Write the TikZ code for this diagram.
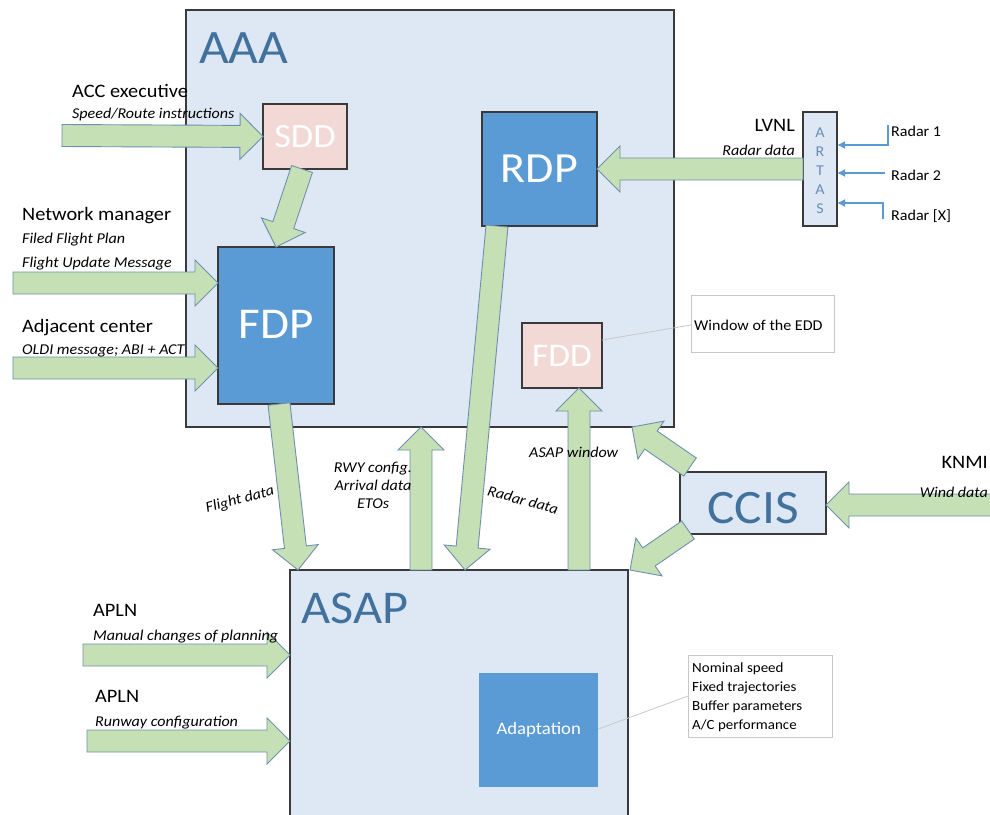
\documentclass[tikz,border=0pt]{standalone}
\usepackage{fontspec}
\setmainfont{Carlito}[FakeStretch=1.07]
\usetikzlibrary{calc,arrows.meta}
\definecolor{bgblue}{HTML}{DDE8F4}
\definecolor{midblue}{HTML}{5B9BD5}
\definecolor{pinkbox}{HTML}{F2D9D5}
\definecolor{titleblue}{HTML}{41719C}
\definecolor{boxline}{HTML}{3A3A3A}
\definecolor{greenfill}{HTML}{C5E0B4}
\definecolor{greenline}{HTML}{6F8FB0}
\definecolor{artasblue}{HTML}{6A8DB5}
\definecolor{noteline}{HTML}{C8C8C8}
\newcommand{\fs}[1]{\fontsize{#1}{#1}\selectfont}
\newcommand{\fatarr}[2]{%
  \coordinate (faS) at #1; \coordinate (faE) at #2;
  \coordinate (faH) at ($(faE)!23pt!(faS)$);
  \filldraw[fatstyle] ($(faS)!11pt!90:(faE)$) -- ($(faH)!11pt!90:(faE)$) -- ($(faH)!23pt!90:(faE)$) -- (faE) -- ($(faH)!23pt!-90:(faE)$) -- ($(faH)!11pt!-90:(faE)$) -- ($(faS)!11pt!-90:(faE)$) -- cycle;}
\tikzset{
  box/.style={draw=boxline, line width=1.3pt, inner sep=0pt, outer sep=0pt},
  fatstyle/.style={fill=greenfill, draw=greenline, line width=0.9pt, line join=miter},
  lab/.style={inner sep=0pt, anchor=base west, font=\fs{19}},
  ital/.style={inner sep=0pt, anchor=base west, font=\fs{15}\itshape},
  notebox/.style={draw=noteline, line width=0.8pt, fill=white, inner sep=0pt, outer sep=0pt, anchor=north west},
  noteln/.style={draw=noteline, line width=0.8pt},
  radarln/.style={draw=midblue, line width=1.3pt, -{Latex[length=8pt,width=8pt]}},
}
\begin{document}
\begin{tikzpicture}[x=1pt,y=-1pt]
\useasboundingbox (0,0) rectangle (990,814);
\clip (0,0) rectangle (990,814);
% main containers
\node[box, fill=bgblue, anchor=north west, minimum width=488, minimum height=417] (AAA) at (186,10) {};
\node[inner sep=0pt, anchor=base west, font=\fs{48}, text=titleblue] (AAAt) at (199,63) {AAA};
\node[box, fill=bgblue, anchor=north west, minimum width=338, minimum height=270] (ASAP) at (290,570) {};
\node[inner sep=0pt, anchor=base west, font=\fs{47}, text=titleblue] (ASAPt) at (301,623) {ASAP};
% inner boxes
\node[box, fill=pinkbox, anchor=north west, minimum width=84, minimum height=65, font=\fs{34}, text=white] (SDD) at (263,104) {SDD};
\node[box, fill=midblue, anchor=north west, minimum width=116, minimum height=157, font=\fs{44}, text=white, text depth=3pt] (FDP) at (218,247) {FDP};
\node[box, fill=midblue, anchor=north west, minimum width=115, minimum height=114, font=\fs{43}, text=white] (RDP) at (482,112) {RDP};
\node[box, fill=pinkbox, anchor=north west, minimum width=80, minimum height=65, font=\fs{33}, text=white] (FDD) at (522,323) {FDD};
\node[box, fill=bgblue, anchor=north west, minimum width=34, minimum height=114] (ARTAS) at (803,112) {};
\foreach \l/\yy in {A/133,R/152,T/171,A/190,S/209}
  \node[inner sep=0pt, font=\fs{15}, text=artasblue] at (820,\yy) {\l};
\node[box, fill=bgblue, anchor=north west, minimum width=146, minimum height=62] (CCIS) at (680,472) {};
\node[inner sep=0pt, anchor=base, font=\fs{48}, text=titleblue] (CCISt) at (753,523) {CCIS};
\node[fill=midblue, inner sep=0pt, anchor=north west, minimum width=119, minimum height=114, font=\fs{17.5}, text=white] (ADA) at (479,673) {Adaptation};
% notes
\node[notebox, minimum width=143, minimum height=57] (EDD) at (691,295) {};
\node[inner sep=0pt, anchor=base west, font=\fs{15}] (EDDt) at (694,330) {Window of the EDD};
\draw[noteln] (FDD.east |- 0,340) -- (EDD.west |- 0,325);
\node[notebox, minimum width=144, minimum height=82] (NOTE) at (688,655) {};
\node[inner sep=0pt, anchor=base west, font=\fontsize{14}{19}\selectfont, align=left] (NOTEt) at (692,729) {Nominal speed\\Fixed trajectories\\Buffer parameters\\A/C performance};
\draw[noteln] (ADA.east |- 0,729) -- (NOTE.west |- 0,696);
% free ends
\coordinate (accS) at (62,135.5);
\coordinate (netS) at (13,283);
\coordinate (adjS) at (13,368);
\coordinate (apl1S) at (83,655);
\coordinate (apl2S) at (87,741);
\coordinate (knmiS) at (1000,505);
% fat arrows
\fatarr{(accS)}{(SDD.west)}
\fatarr{($(SDD.south)+(-3,0)$)}{(FDP.north)}
\fatarr{(netS)}{(FDP.west |- netS)}
\fatarr{(adjS)}{(FDP.west |- adjS)}
\fatarr{($(FDP.south)+(3,0)$)}{(ASAP.north west -| 298,0)}
\fatarr{(ASAP.north west -| 421,0)}{(AAA.south west -| 421,0)}
\fatarr{(RDP.south west -| 497,0)}{(ASAP.north west -| 465,0)}
\fatarr{(ASAP.north west -| 579,0)}{(FDD.south -| 579,0)}
\fatarr{($(CCIS.north west)+(10,-5)$)}{(AAA.south west -| 632,0)}
\fatarr{($(CCIS.south west)+(8,-4)$)}{(ASAP.north west -| 630,0)}
\fatarr{(knmiS)}{(CCIS.east |- knmiS)}
\fatarr{(apl1S)}{(ASAP.west |- apl1S)}
\fatarr{(apl2S)}{(ASAP.west |- apl2S)}
\fatarr{(ARTAS.west |- 0,169)}{(RDP.east |- 0,169)}
% radar inputs
\node[inner sep=0pt, anchor=base west, font=\fs{15}] (R1) at (891,136) {Radar 1};
\node[inner sep=0pt, anchor=base west, font=\fs{15}] (R2) at (891,180) {Radar 2};
\node[inner sep=0pt, anchor=base west, font=\fs{15}] (RX) at (891,220) {Radar [X]};
\coordinate (r1s) at (888,125);
\coordinate (r2s) at (885,173);
\coordinate (rxs) at (883,219);
\draw[radarln] (r1s) |- (ARTAS.east |- 0,145);
\draw[radarln] (r2s) -- (ARTAS.east |- r2s);
\draw[radarln] (rxs) |- (ARTAS.east |- 0,203);
% labels
\node[lab] at (72,97) {ACC executive};
\node[ital] at (72,118) {Speed/Route instructions};
\node[lab] at (22,220) {Network manager};
\node[ital] at (22,243) {Filed Flight Plan};
\node[ital] at (22,267) {Flight Update Message};
\node[lab] at (22,332) {Adjacent center};
\node[ital] at (22,354) {OLDI message; ABI + ACT};
\node[lab] at (93,616) {APLN};
\node[ital] at (93,640) {Manual changes of planning};
\node[lab] at (95,702) {APLN};
\node[ital] at (95,726) {Runway configuration};
\node[lab, anchor=base east] at (795,131) {LVNL};
\node[ital, anchor=base east] at (795,155) {Radar data};
\node[lab, anchor=base east] at (988,468) {KNMI};
\node[ital, anchor=base east] at (988,497) {Wind data};
\node[inner sep=0pt, font=\fs{15}\itshape, rotate=15] at (240,500) {Flight data};
\node[inner sep=0pt, font=\fs{15}\itshape, rotate=-15] at (523,500) {Radar data};
\node[inner sep=0pt, anchor=base, font=\fontsize{15}{18}\selectfont\itshape, align=center] at (373,508) {RWY config.\\Arrival data\\ETOs};
\node[ital] at (529,457) {ASAP window};
\end{tikzpicture}
\end{document}
